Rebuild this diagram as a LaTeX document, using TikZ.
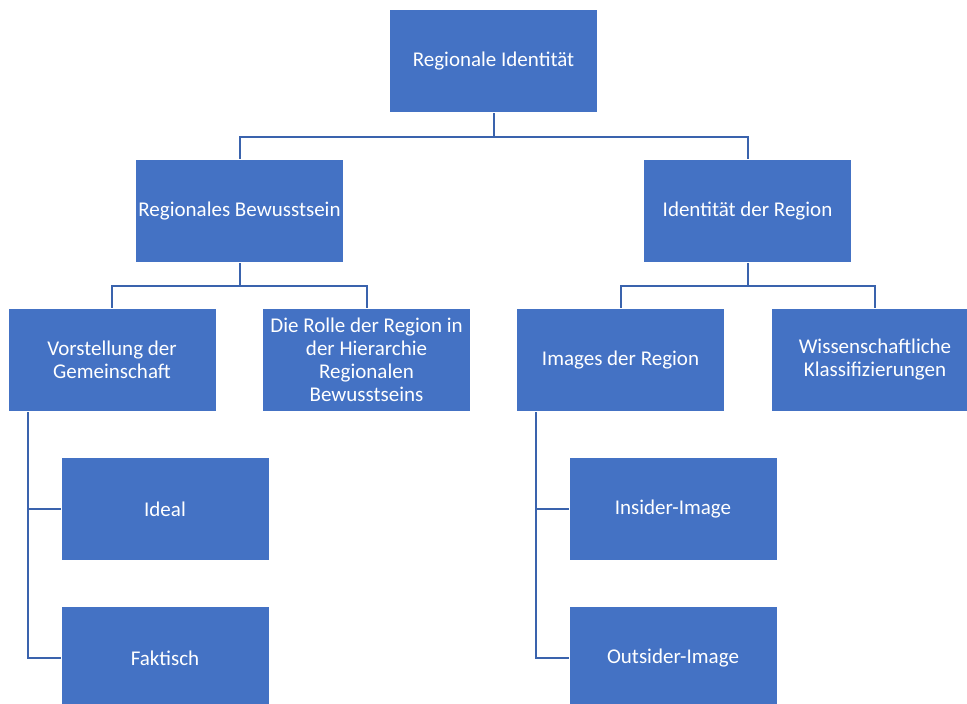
\documentclass[tikz,border=0pt]{standalone}
\usepackage{fontspec}
\setmainfont{Carlito}
\usetikzlibrary{positioning}
\definecolor{boxblue}{HTML}{4472C4}
\definecolor{lineblue}{HTML}{3A63AD}
\tikzset{box/.style={fill=boxblue, text=white, minimum width=207pt, minimum height=102pt, inner sep=0pt, align=center, font=\fontsize{21}{23}\selectfont}}

\begin{document}
\begin{tikzpicture}[x=1pt, y=1pt, line width=2pt]
	\useasboundingbox (0,0) rectangle (967,-704);
	\node[box] (R) at (493.5,-61) {Regionale Identität};
	\node[box] (B) at (239.5,-211) {Regionales Bewusstsein};
	\node[box] (I) at (747.5,-211) {Identität der Region};
	\node[box] (V) at (112,-360) {Vorstellung der\\Gemeinschaft};
	\node[box] (H) at (366.5,-360) {Die Rolle der Region in\\der Hierarchie\\Regionalen\\Bewusstseins};
	\node[box] (G) at (620.5,-360) {Images der Region};
	\node[box] (W) at (875,-360) {Wissenschaftliche\\Klassifizierungen};
	\node[box] (V1) at (165,-509) {Ideal};
	\node[box] (V2) at (165,-658) {Faktisch};
	\node[box] (G1) at (673,-509) {Insider-Image};
	\node[box] (G2) at (673,-658) {Outsider-Image};
	\draw [lineblue](R.south) -- ++(0,-24) -| (B.north); \draw [lineblue](R.south) -- ++(0,-24) -| (I.north);
	\draw [lineblue](B.south) -- ++(0,-23) -| (V.north); \draw [lineblue](B.south) -- ++(0,-23) -| (H.north);
	\draw [lineblue](I.south) -- ++(0,-23) -| (G.north); \draw [lineblue](I.south) -- ++(0,-23) -| (W.north);
	\draw [lineblue]([xshift=20pt]V.south west) |- (V1.west); \draw [lineblue]([xshift=20pt]V.south west) |- (V2.west);
	\draw [lineblue]([xshift=20pt]G.south west) |- (G1.west); \draw [lineblue]([xshift=20pt]G.south west) |- (G2.west);
\end{tikzpicture}
\end{document}
